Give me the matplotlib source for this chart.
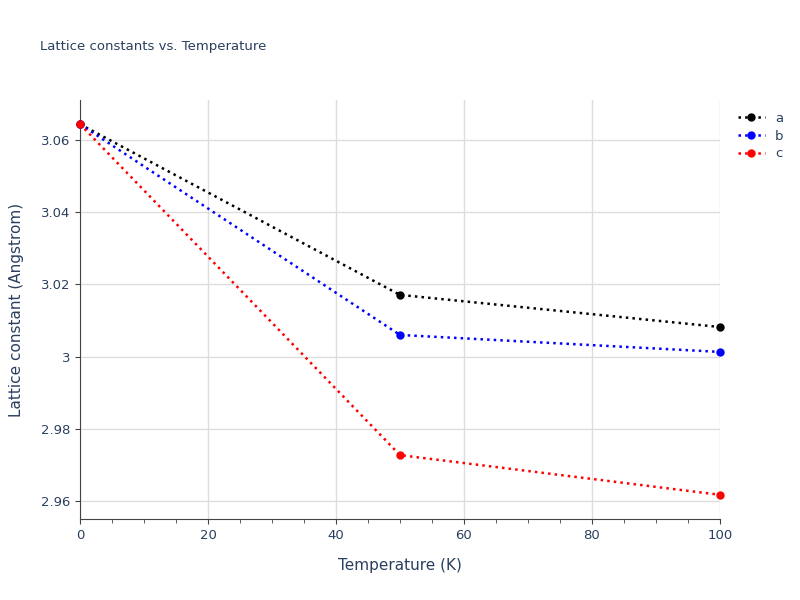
import matplotlib as mpl

mpl.use("Agg")

import matplotlib.pyplot as plt

temperature = [0, 50, 100]
lattice_a = [3.0644, 3.0171, 3.0082]
lattice_b = [3.0644, 3.0060, 3.0013]
lattice_c = [3.0644, 2.9727, 2.9617]

series = [("a", lattice_a, "black"), ("b", lattice_b, "blue"), ("c", lattice_c, "red")]

fig = plt.figure(figsize=(8, 6), dpi=100)
ax = fig.add_axes([0.1, 0.135, 0.8, 0.6983])

for name, values, color in series:
    ax.plot(temperature, values, linestyle=":", linewidth=1.8, marker="o",
            markersize=5, color=color, label=name, clip_on=False, zorder=3)

ax.set_xlim(0, 100)
ax.set_ylim(2.955, 3.0711)
ax.set_xticks([0, 20, 40, 60, 80, 100])
ax.set_xticks(range(0, 101, 5), minor=True)
ax.set_yticks([2.96, 2.98, 3.0, 3.02, 3.04, 3.06])
ax.set_yticklabels(["2.96", "2.98", "3", "3.02", "3.04", "3.06"])
ax.grid(True, color="#dddddd", linewidth=1)
ax.set_axisbelow(True)
for side in ("top", "right"):
    ax.spines[side].set_visible(False)
for side in ("left", "bottom"):
    ax.spines[side].set_color("#444444")
text_color = "#2a3f5f"
ax.tick_params(colors="#444444", labelcolor=text_color, labelsize=9.5, direction="out")
ax.tick_params(which="minor", length=3, color="#444444")
ax.set_xlabel("Temperature (K)", fontsize=11, color=text_color, labelpad=12)
ax.set_ylabel("Lattice constant (Angstrom)", fontsize=11, color=text_color, labelpad=12)

fig.text(0.05, 0.917, "Lattice constants vs. Temperature", fontsize=9.5, color=text_color)
ax.legend(loc="upper left", bbox_to_anchor=(1.01, 1.0), frameon=False,
          fontsize=9.5, labelcolor=text_color, handlelength=2, labelspacing=0.35)

fig.savefig("out.png", dpi=100)
